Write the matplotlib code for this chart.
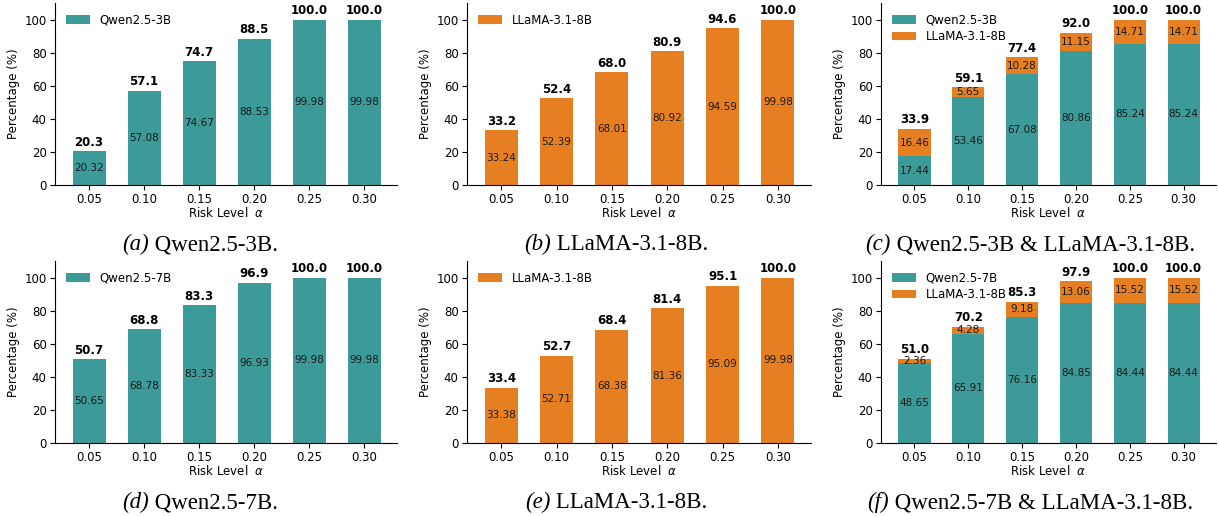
"""Risk level vs. percentage bar charts for Qwen2.5 / LLaMA-3.1 (six panels)."""

import matplotlib
matplotlib.use("Agg")
import matplotlib.pyplot as plt
import numpy as np

TEAL = "#3c9b98"
ORANGE = "#e67f22"

alphas = ["0.05", "0.10", "0.15", "0.20", "0.25", "0.30"]

# (a) Qwen2.5-3B alone, (b) LLaMA-3.1-8B alone, (c) stacked
qwen3b = [20.32, 57.08, 74.67, 88.53, 99.98, 99.98]
llama_b = [33.24, 52.39, 68.01, 80.92, 94.59, 99.98]
stack_c_qwen = [17.44, 53.46, 67.08, 80.86, 85.24, 85.24]
stack_c_llama = [16.46, 5.65, 10.28, 11.15, 14.71, 14.71]

# (d) Qwen2.5-7B alone, (e) LLaMA-3.1-8B alone, (f) stacked
qwen7b = [50.65, 68.78, 83.33, 96.93, 99.98, 99.98]
llama_e = [33.38, 52.71, 68.38, 81.36, 95.09, 99.98]
stack_f_qwen = [48.65, 65.91, 76.16, 84.85, 84.44, 84.44]
stack_f_llama = [2.36, 4.28, 9.18, 13.06, 15.52, 15.52]

captions = [
    ("(a)", " Qwen2.5-3B."),
    ("(b)", " LLaMA-3.1-8B."),
    ("(c)", " Qwen2.5-3B & LLaMA-3.1-8B."),
    ("(d)", " Qwen2.5-7B."),
    ("(e)", " LLaMA-3.1-8B."),
    ("(f)", " Qwen2.5-7B & LLaMA-3.1-8B."),
]

W, H = 1219, 516
FS = 8.5


def px_axes(fig, left, top, right, bottom):
    return fig.add_axes([left / W, 1 - bottom / H, (right - left) / W, (bottom - top) / H])


def draw_panel(ax, series, names, colors):
    x = np.arange(len(alphas))
    base = np.zeros(len(alphas))
    for vals, name, col in zip(series, names, colors):
        vals = np.asarray(vals)
        ax.bar(x, vals, 0.6, bottom=base, color=col, label=name)
        for xi, b, v in zip(x, base, vals):
            ax.text(xi, b + v / 2, f"{v:.2f}", ha="center", va="center",
                    fontsize=7.5, color="#1a1a1a")
        base = base + vals
    for xi, tot in zip(x, base):
        # round half up, as in the source figure (50.65 -> 50.7)
        ax.text(xi, tot + 1.5, f"{tot + 1e-6:.1f}", ha="center", va="bottom",
                fontsize=FS, fontweight="bold")
    ax.set_xticks(x)
    ax.set_xticklabels(alphas)
    ax.set_xlim(-0.62, 5.6)
    ax.set_ylim(0, 110)
    ax.set_yticks(range(0, 101, 20))
    ax.tick_params(labelsize=FS, pad=2.5)
    ax.set_xlabel("Risk Level  $\\alpha$", fontsize=FS, labelpad=0)
    ax.set_ylabel("Percentage (%)", fontsize=FS, labelpad=3)
    ax.spines["top"].set_visible(False)
    ax.spines["right"].set_visible(False)
    ax.legend(loc="upper left", frameon=False, fontsize=FS,
              handlelength=2.1, borderaxespad=0.5, labelspacing=0.3)


fig = plt.figure(figsize=(W / 100, H / 100), dpi=100)

cols = [(55, 397), (467, 811), (881, 1216)]
rows = [(3, 185), (261, 443)]
panels = [
    ([qwen3b], ["Qwen2.5-3B"], [TEAL]),
    ([llama_b], ["LLaMA-3.1-8B"], [ORANGE]),
    ([stack_c_qwen, stack_c_llama], ["Qwen2.5-3B", "LLaMA-3.1-8B"], [TEAL, ORANGE]),
    ([qwen7b], ["Qwen2.5-7B"], [TEAL]),
    ([llama_e], ["LLaMA-3.1-8B"], [ORANGE]),
    ([stack_f_qwen, stack_f_llama], ["Qwen2.5-7B", "LLaMA-3.1-8B"], [TEAL, ORANGE]),
]

for i, (series, names, colors) in enumerate(panels):
    r, c = divmod(i, 3)
    ax = px_axes(fig, cols[c][0], rows[r][0], cols[c][1], rows[r][1])
    draw_panel(ax, series, names, colors)

# captions: italic tag + upright name, centred under each sub-figure
cap_centres = [200, 616, 1030]
cap_baselines = [250, 508]
renderer = fig.canvas.get_renderer()
for i, (tag, name) in enumerate(captions):
    r, c = divmod(i, 3)
    t1 = fig.text(0, 1 - cap_baselines[r] / H, tag, family="Liberation Serif",
                  style="italic", fontsize=16.5, va="baseline", ha="left")
    t2 = fig.text(0, 1 - cap_baselines[r] / H, name, family="Liberation Serif",
                  fontsize=16.5, va="baseline", ha="left")
    w1 = t1.get_window_extent(renderer).width
    w2 = t2.get_window_extent(renderer).width
    x0 = cap_centres[c] - (w1 + w2) / 2
    t1.set_x(x0 / W)
    t2.set_x((x0 + w1) / W)

fig.savefig("out.png", dpi=100)
